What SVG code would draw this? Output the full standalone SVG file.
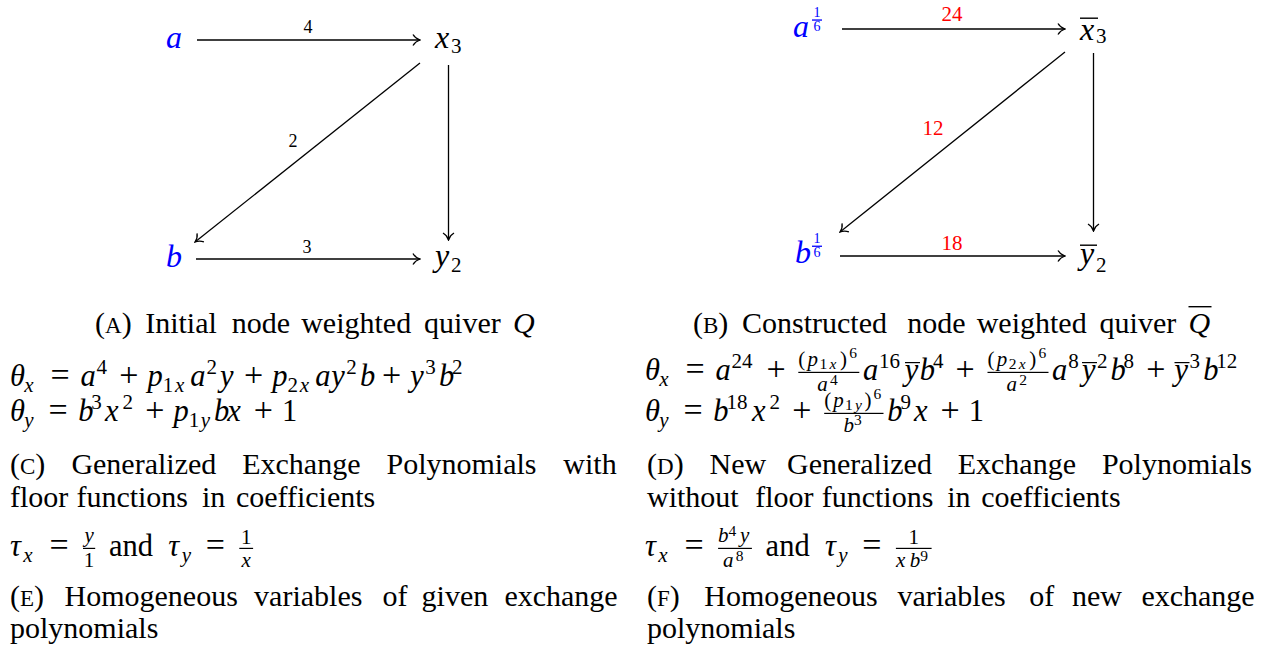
<svg xmlns="http://www.w3.org/2000/svg" width="1273" height="649" viewBox="0 0 1273 649">
<style>
.edge{stroke:#000;stroke-width:1.3;fill:none;marker-end:url(#ah)}
</style>
<defs>
<marker id="ah" markerWidth="10" markerHeight="14" viewBox="-9 -7 10 14" refX="0" refY="0" orient="auto" markerUnits="userSpaceOnUse">
<path d="M-7,-5.5 C-5,-2 -2,-0.6 0,0 C-2,0.6 -5,2 -7,5.5" fill="none" stroke="#000" stroke-width="1.3"/>
</marker>
</defs>
<g id="connectors">
<line class="edge" x1="197" y1="40" x2="420" y2="40"/>
<line class="edge" x1="420" y1="63" x2="195" y2="242"/>
<line class="edge" x1="448.5" y1="65" x2="448.5" y2="240"/>
<line class="edge" x1="196" y1="259" x2="420" y2="259"/>
<line class="edge" x1="842" y1="29" x2="1065" y2="29"/>
<line class="edge" x1="1065" y1="52" x2="840" y2="232"/>
<line class="edge" x1="1093.5" y1="53" x2="1093.5" y2="231"/>
<line class="edge" x1="840" y1="256" x2="1065" y2="256"/>
</g>
<text x="308" y="33" font-family="Liberation Serif" font-size="18" text-anchor="middle">4</text>
<text x="293" y="147" font-family="Liberation Serif" font-size="18" text-anchor="middle">2</text>
<text x="307" y="253" font-family="Liberation Serif" font-size="18" text-anchor="middle">3</text>
<text x="952" y="21" font-family="Liberation Serif" font-size="21" text-anchor="middle" fill="#ff0000">24</text>
<text x="933" y="135" font-family="Liberation Serif" font-size="21" text-anchor="middle" fill="#ff0000">12</text>
<text x="952" y="250" font-family="Liberation Serif" font-size="21" text-anchor="middle" fill="#ff0000">18</text>

<g id="node-a"><text x="166" y="48" font-family="Liberation Serif" font-size="32" font-style="italic" fill="#0000ff">a</text></g>
<g id="node-x3"><text x="435" y="48" font-family="Liberation Serif" font-size="32" font-style="italic">x</text><text x="451" y="53" font-family="Liberation Serif" font-size="21">3</text></g>
<g id="node-b"><text x="166" y="267" font-family="Liberation Serif" font-size="32" font-style="italic" fill="#0000ff">b</text></g>
<g id="node-y2"><text x="435" y="266" font-family="Liberation Serif" font-size="32" font-style="italic">y</text><text x="451" y="272" font-family="Liberation Serif" font-size="21">2</text></g>
<g id="node-a16"><text x="793" y="37" font-family="Liberation Serif" font-size="32" font-style="italic" fill="#0000ff">a</text><text x="813.5" y="17" font-family="Liberation Serif" font-size="14" fill="#0000ff">1</text><rect x="812" y="19.4" width="10" height="1.3" fill="#0000ff"/><text x="813.5" y="31" font-family="Liberation Serif" font-size="14" fill="#0000ff">6</text></g>
<g id="node-x3bar"><text x="1080" y="40" font-family="Liberation Serif" font-size="32" font-style="italic">x</text><text x="1096" y="42.5" font-family="Liberation Serif" font-size="21">3</text><rect x="1080" y="17.5" width="18" height="1.4"/></g>
<g id="node-b16"><text x="795" y="263" font-family="Liberation Serif" font-size="32" font-style="italic" fill="#0000ff">b</text><text x="813.5" y="243" font-family="Liberation Serif" font-size="14" fill="#0000ff">1</text><rect x="812" y="245.6" width="10" height="1.3" fill="#0000ff"/><text x="813.5" y="257" font-family="Liberation Serif" font-size="14" fill="#0000ff">6</text></g>
<g id="node-y2bar"><text x="1080" y="264" font-family="Liberation Serif" font-size="32" font-style="italic">y</text><text x="1096" y="272" font-family="Liberation Serif" font-size="21">2</text><rect x="1080" y="244.5" width="17" height="1.4"/></g>

<text x="95" y="333" font-family="Liberation Serif" font-size="30">(<tspan font-size="23">A</tspan>)</text>
<text x="145.2" y="333" font-family="Liberation Serif" font-size="30">Initial</text>
<text x="231.7" y="333" font-family="Liberation Serif" font-size="30">node</text>
<text x="301.2" y="333" font-family="Liberation Serif" font-size="30">weighted</text>
<text x="424.1" y="333" font-family="Liberation Serif" font-size="30">quiver</text>
<text x="513.1" y="333" font-family="Liberation Serif" font-size="30" font-style="italic">Q</text>
<text x="693" y="333" font-family="Liberation Serif" font-size="30">(<tspan font-size="23">B</tspan>)</text>
<text x="742" y="333" font-family="Liberation Serif" font-size="30">Constructed</text>
<text x="907.2" y="333" font-family="Liberation Serif" font-size="30">node</text>
<text x="976.7" y="333" font-family="Liberation Serif" font-size="30">weighted</text>
<text x="1099.6" y="333" font-family="Liberation Serif" font-size="30">quiver</text>
<text x="1188.6" y="333" font-family="Liberation Serif" font-size="30" font-style="italic">Q</text>
<rect x="1188.5" y="306" width="23" height="1.4"/>

<text x="10" y="386" font-family="Liberation Serif" font-size="30.5" font-style="italic">θ<tspan font-size="21" x="24.3" y="392">x</tspan><tspan font-style="normal" font-size="34" x="50.5" y="386">=</tspan><tspan x="80.4" y="386">a</tspan><tspan font-size="21" font-style="normal" x="96.5" y="374">4</tspan><tspan font-style="normal" font-size="34" x="119.2" y="386">+</tspan><tspan x="147.4" y="386">p</tspan><tspan font-size="21" font-style="normal" x="162.8" y="392">1</tspan><tspan font-size="21" x="174.9" y="392">x</tspan><tspan x="190.3" y="386">a</tspan><tspan font-size="21" font-style="normal" x="206.4" y="374">2</tspan><tspan x="220.1" y="386">y</tspan><tspan font-style="normal" font-size="34" x="244.1" y="386">+</tspan><tspan x="272.3" y="386">p</tspan><tspan font-size="21" font-style="normal" x="287.6" y="392">2</tspan><tspan font-size="21" x="299.7" y="392">x</tspan><tspan x="315.2" y="386">a</tspan><tspan x="331.3" y="386">y</tspan><tspan font-size="21" font-style="normal" x="346.2" y="374">2</tspan><tspan x="359.9" y="386">b</tspan><tspan font-style="normal" font-size="34" x="382.1" y="386">+</tspan><tspan x="410.3" y="386">y</tspan><tspan font-size="21" font-style="normal" x="425.2" y="374">3</tspan><tspan x="438.9" y="386">b</tspan><tspan font-size="21" font-style="normal" x="452" y="374">2</tspan></text>
<text x="10" y="421" font-family="Liberation Serif" font-size="30.5" font-style="italic">θ<tspan font-size="21" x="24.3" y="427">y</tspan><tspan font-style="normal" font-size="34" x="48.4" y="421">=</tspan><tspan x="78.3" y="421">b</tspan><tspan font-size="21" font-style="normal" x="91.3" y="409">3</tspan><tspan x="105" y="421">x</tspan><tspan font-size="21" font-style="normal" x="122.5" y="409">2</tspan><tspan font-style="normal" font-size="34" x="145.2" y="421">+</tspan><tspan x="173.4" y="421">p</tspan><tspan font-size="21" font-style="normal" x="188.7" y="427">1</tspan><tspan font-size="21" x="200.8" y="427">y</tspan><tspan x="214.1" y="421">b</tspan><tspan x="227.2" y="421">x</tspan><tspan font-style="normal" font-size="34" x="253.7" y="421">+</tspan><tspan font-style="normal" x="281.9" y="421">1</tspan></text>

<text x="645" y="380" font-family="Liberation Serif" font-size="30.5" font-style="italic">θ<tspan font-size="21" x="659.3" y="386">x</tspan><tspan font-style="normal" font-size="34" x="685.5" y="380">=</tspan><tspan x="715.4" y="380">a</tspan><tspan font-size="21" font-style="normal" x="731.5" y="368">24</tspan><tspan font-style="normal" font-size="34" x="766.4" y="380">+</tspan><tspan x="862.9" y="380">a</tspan><tspan font-size="21" font-style="normal" x="879" y="368">16</tspan><tspan x="904.8" y="380">y</tspan><tspan x="919.8" y="380">b</tspan><tspan font-size="21" font-style="normal" x="932.9" y="368">4</tspan><tspan font-style="normal" font-size="34" x="955.6" y="380">+</tspan><tspan x="1052.1" y="380">a</tspan><tspan font-size="21" font-style="normal" x="1068.2" y="368">8</tspan><tspan x="1081.9" y="380">y</tspan><tspan font-size="21" font-style="normal" x="1096.9" y="368">2</tspan><tspan x="1110.5" y="380">b</tspan><tspan font-size="21" font-style="normal" x="1123.6" y="368">8</tspan><tspan font-style="normal" font-size="34" x="1146.3" y="380">+</tspan><tspan x="1174.5" y="380">y</tspan><tspan font-size="21" font-style="normal" x="1189.5" y="368">3</tspan><tspan x="1203.2" y="380">b</tspan><tspan font-size="21" font-style="normal" x="1216.2" y="368">12</tspan></text>
<rect x="905" y="362" width="15" height="1.2"/>
<rect x="1082" y="362" width="15" height="1.2"/>
<rect x="1174.5" y="362" width="15" height="1.2"/>
<text x="798.3" y="366" font-family="Liberation Serif" font-size="21" font-style="italic"><tspan font-style="normal">(</tspan><tspan x="807.5">p</tspan><tspan font-size="15.5" font-style="normal" x="819.5" y="369">1</tspan><tspan font-size="15.5" x="829.6" y="369">x</tspan><tspan font-style="normal" x="840" y="366">)</tspan><tspan font-size="15.5" font-style="normal" x="849.2" y="358">6</tspan></text>
<rect x="798.3" y="371.8" width="61" height="1.2"/>
<text x="817.2" y="391" font-family="Liberation Serif" font-size="21" font-style="italic">a<tspan font-size="15.5" font-style="normal" x="830" y="384.5">4</tspan></text>
<text x="987.5" y="366" font-family="Liberation Serif" font-size="21" font-style="italic"><tspan font-style="normal">(</tspan><tspan x="996.7">p</tspan><tspan font-size="15.5" font-style="normal" x="1008.7" y="369">2</tspan><tspan font-size="15.5" x="1018.8" y="369">x</tspan><tspan font-style="normal" x="1029.2" y="366">)</tspan><tspan font-size="15.5" font-style="normal" x="1038.4" y="358">6</tspan></text>
<rect x="987.5" y="371.8" width="61" height="1.2"/>
<text x="1006.4" y="391" font-family="Liberation Serif" font-size="21" font-style="italic">a<tspan font-size="15.5" font-style="normal" x="1019.2" y="384.5">2</tspan></text>
<text x="645" y="421" font-family="Liberation Serif" font-size="30.5" font-style="italic">θ<tspan font-size="21" x="659.3" y="427">y</tspan><tspan font-style="normal" font-size="34" x="683.4" y="421">=</tspan><tspan x="713.3" y="421">b</tspan><tspan font-size="21" font-style="normal" x="726.4" y="409">18</tspan><tspan x="752.1" y="421">x</tspan><tspan font-size="21" font-style="normal" x="769.6" y="409">2</tspan><tspan font-style="normal" font-size="34" x="792.3" y="421">+</tspan><tspan x="887.3" y="421">b</tspan><tspan font-size="21" font-style="normal" x="900.4" y="409">9</tspan><tspan x="914.1" y="421">x</tspan><tspan font-style="normal" font-size="34" x="940.6" y="421">+</tspan><tspan font-style="normal" x="968.8" y="421">1</tspan></text>
<text x="824.2" y="407" font-family="Liberation Serif" font-size="21" font-style="italic"><tspan font-style="normal">(</tspan><tspan x="833.2">p</tspan><tspan font-size="15.5" font-style="normal" x="845" y="410">1</tspan><tspan font-size="15.5" x="855" y="410">y</tspan><tspan font-style="normal" x="864.5" y="407">)</tspan><tspan font-size="15.5" font-style="normal" x="873.5" y="399">6</tspan></text>
<rect x="824.2" y="412.8" width="59.3" height="1.2"/>
<text x="843.4" y="431.5" font-family="Liberation Serif" font-size="21" font-style="italic">b<tspan font-size="15.5" font-style="normal" x="853.9" y="424.5">3</tspan></text>

<text x="10" y="474" font-family="Liberation Serif" font-size="30">(<tspan font-size="23">C</tspan>)</text>
<text x="71.4" y="474" font-family="Liberation Serif" font-size="30">Generalized</text>
<text x="242.2" y="474" font-family="Liberation Serif" font-size="30">Exchange</text>
<text x="386.5" y="474" font-family="Liberation Serif" font-size="30">Polynomials</text>
<text x="563.3" y="474" font-family="Liberation Serif" font-size="30">with</text>
<text x="10" y="507" font-family="Liberation Serif" font-size="30">floor</text>
<text x="76.4" y="507" font-family="Liberation Serif" font-size="30">functions</text>
<text x="201.9" y="507" font-family="Liberation Serif" font-size="30">in</text>
<text x="235.9" y="507" font-family="Liberation Serif" font-size="30">coefficients</text>
<text x="647" y="474" font-family="Liberation Serif" font-size="30">(<tspan font-size="23">D</tspan>)</text>
<text x="709.5" y="474" font-family="Liberation Serif" font-size="30">New</text>
<text x="787" y="474" font-family="Liberation Serif" font-size="30">Generalized</text>
<text x="957.7" y="474" font-family="Liberation Serif" font-size="30">Exchange</text>
<text x="1101.9" y="474" font-family="Liberation Serif" font-size="30">Polynomials</text>
<text x="647" y="507" font-family="Liberation Serif" font-size="30">without</text>
<text x="755.3" y="507" font-family="Liberation Serif" font-size="30">floor</text>
<text x="821.7" y="507" font-family="Liberation Serif" font-size="30">functions</text>
<text x="947.2" y="507" font-family="Liberation Serif" font-size="30">in</text>
<text x="981.2" y="507" font-family="Liberation Serif" font-size="30">coefficients</text>

<text x="10" y="556" font-family="Liberation Serif" font-size="30.5" font-style="italic">τ<tspan font-size="21" x="23.3" y="562">x</tspan><tspan font-style="normal" font-size="34" x="49.5" y="556">=</tspan><tspan font-style="normal" x="109" y="556">and</tspan><tspan x="168.3" y="556">τ</tspan><tspan font-size="21" x="181.7" y="562">y</tspan><tspan font-style="normal" font-size="34" x="205.7" y="556">=</tspan></text>
<text x="89.1" y="542" font-family="Liberation Serif" font-size="21" font-style="italic" text-anchor="middle">y</text>
<rect x="83" y="547.8" width="12.2" height="1.2"/>
<text x="89.1" y="567" font-family="Liberation Serif" font-size="21" text-anchor="middle">1</text>
<text x="246.2" y="544" font-family="Liberation Serif" font-size="21" text-anchor="middle">1</text>
<rect x="239.3" y="547.8" width="13.8" height="1.2"/>
<text x="246.2" y="567" font-family="Liberation Serif" font-size="21" font-style="italic" text-anchor="middle">x</text>
<text x="645" y="556" font-family="Liberation Serif" font-size="30.5" font-style="italic">τ<tspan font-size="21" x="658.3" y="562">x</tspan><tspan font-style="normal" font-size="34" x="684.5" y="556">=</tspan><tspan font-style="normal" x="765.6" y="556">and</tspan><tspan x="825" y="556">τ</tspan><tspan font-size="21" x="838.3" y="562">y</tspan><tspan font-style="normal" font-size="34" x="862.3" y="556">=</tspan></text>
<text x="718.1" y="542" font-family="Liberation Serif" font-size="21" font-style="italic">b<tspan font-size="15.5" font-style="normal" x="728.6" y="536">4</tspan><tspan x="740" y="542">y</tspan></text>
<rect x="718.1" y="547.8" width="33.8" height="1.2"/>
<text x="722.9" y="567" font-family="Liberation Serif" font-size="21" font-style="italic">a<tspan font-size="15.5" font-style="normal" x="735.7" y="561">8</tspan></text>
<text x="913.8" y="544" font-family="Liberation Serif" font-size="21" text-anchor="middle">1</text>
<rect x="895.9" y="547.8" width="35.7" height="1.2"/>
<text x="895.9" y="567" font-family="Liberation Serif" font-size="21" font-style="italic">x<tspan x="909.7">b</tspan><tspan font-size="15.5" font-style="normal" x="920.2" y="561">9</tspan></text>

<text x="10" y="606" font-family="Liberation Serif" font-size="30">(<tspan font-size="23">E</tspan>)</text>
<text x="64.5" y="606" font-family="Liberation Serif" font-size="30">Homogeneous</text>
<text x="254.1" y="606" font-family="Liberation Serif" font-size="30">variables</text>
<text x="382.4" y="606" font-family="Liberation Serif" font-size="30">of</text>
<text x="421.6" y="606" font-family="Liberation Serif" font-size="30">given</text>
<text x="504.4" y="606" font-family="Liberation Serif" font-size="30">exchange</text>
<text x="10" y="638" font-family="Liberation Serif" font-size="30">polynomials</text>
<text x="647" y="606" font-family="Liberation Serif" font-size="30">(<tspan font-size="23">F</tspan>)</text>
<text x="704.3" y="606" font-family="Liberation Serif" font-size="30">Homogeneous</text>
<text x="897.4" y="606" font-family="Liberation Serif" font-size="30">variables</text>
<text x="1029.3" y="606" font-family="Liberation Serif" font-size="30">of</text>
<text x="1072" y="606" font-family="Liberation Serif" font-size="30">new</text>
<text x="1141.4" y="606" font-family="Liberation Serif" font-size="30">exchange</text>
<text x="647" y="638" font-family="Liberation Serif" font-size="30">polynomials</text>
</svg>
